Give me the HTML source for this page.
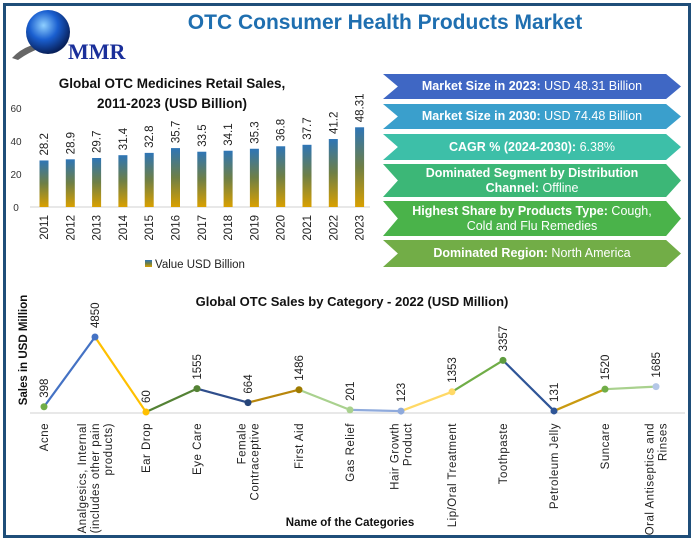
<!DOCTYPE html>
<html><head><meta charset="utf-8"><style>
body{margin:0;background:#fff;}
#wrap{position:relative;width:694px;height:542px;overflow:hidden;background:#fff;font-family:"Liberation Sans",sans-serif;}
#frame{position:absolute;left:3px;top:3px;width:682px;height:529px;border:3px solid #1f4e79;}
.title{position:absolute;left:150px;top:11px;width:470px;text-align:center;color:#1f6fb0;font-weight:bold;font-size:21px;}
.ban{position:absolute;left:383px;width:298px;box-sizing:border-box;padding:0 22px;color:#fff;font-size:12.5px;text-align:center;display:flex;align-items:center;justify-content:center;line-height:15px;clip-path:polygon(0 0,95% 0,100% 50%,95% 100%,0 100%,5% 50%);}
.ban b{font-weight:bold;}
</style></head><body>
<div id="wrap">
<div id="frame"></div>
<svg style="position:absolute;left:10px;top:8px" width="130" height="55">
<defs><radialGradient id="gl" cx="40%" cy="35%" r="65%"><stop offset="0" stop-color="#8fd0ff"/><stop offset="0.5" stop-color="#1a5fd0"/><stop offset="1" stop-color="#08205a"/></radialGradient></defs>
<path d="M2 50 Q20 30 60 34 Q30 36 8 52Z" fill="#666"/>
<circle cx="38" cy="24" r="22" fill="url(#gl)"/>
<text x="58" y="51" font-family="Liberation Serif,serif" font-weight="bold" font-size="22" fill="#1a2f9a">MMR</text>
</svg>
<div class="title">OTC Consumer Health Products Market</div>

<div class="ban" style="top:74px;height:25px;background:#3f67c4"><span><b>Market Size in 2023:</b> USD 48.31 Billion</span></div>
<div class="ban" style="top:104px;height:25px;background:#3a9fcc"><span><b>Market Size in 2030:</b> USD 74.48 Billion</span></div>
<div class="ban" style="top:134px;height:26px;background:#3dbfa8"><span><b>CAGR % (2024-2030):</b> 6.38%</span></div>
<div class="ban" style="top:164px;height:33px;background:#3cb777"><span><b>Dominated Segment by Distribution Channel:</b> Offline</span></div>
<div class="ban" style="top:201px;height:35px;background:#4ab34a"><span><b>Highest Share by Products Type:</b> Cough, Cold and Flu Remedies</span></div>
<div class="ban" style="top:240px;height:27px;background:#72ad47"><span><b>Dominated Region:</b> North America</span></div>

<svg id="bar" style="position:absolute;left:0;top:0" width="380" height="280"></svg>
<svg id="line" style="position:absolute;left:0;top:280px" width="694" height="262"></svg>
</div>
<script>
const years=["2011","2012","2013","2014","2015","2016","2017","2018","2019","2020","2021","2022","2023"];
const sales=[28.2,28.9,29.7,31.4,32.8,35.7,33.5,34.1,35.3,36.8,37.7,41.2,48.31];
const salesLabels=["28.2","28.9","29.7","31.4","32.8","35.7","33.5","34.1","35.3","36.8","37.7","41.2","48.31"];
const yTicks=[0,20,40,60];

const categories=[["Acne"],["Analgesics, Internal","(includes other pain","products)"],["Ear Drop"],["Eye Care"],["Female","Contraceptive"],["First Aid"],["Gas Relief"],["Hair Growth","Product"],["Lip/Oral Treatment"],["Toothpaste"],["Petroleum Jelly"],["Suncare"],["Oral Antiseptics and","Rinses"]];
const catValues=[398,4850,60,1555,664,1486,201,123,1353,3357,131,1520,1685];
const pointColors=["#70ad47","#4472c4","#ffc000","#548235","#264478","#9e7b00","#a9d18e","#8faadc","#ffd966","#5e9c3f","#2f5597","#70ad47","#b4c7e7"];
const segColors=["#4472c4","#ffc000","#548235","#2f4e8c","#b8860b","#a9d18e","#8faadc","#ffd966","#70ad47","#2f5597","#c99a10","#a9d18e"];

const NS="http://www.w3.org/2000/svg";
function mk(p,t,a,txt){const e=document.createElementNS(NS,t);for(const k in a)e.setAttribute(k,a[k]);if(txt!==undefined)e.textContent=txt;p.appendChild(e);return e;}

// bar chart
const bs=document.getElementById('bar');
const defs=mk(bs,'defs',{});
const g=mk(defs,'linearGradient',{id:'bg',x1:0,y1:0,x2:0,y2:1});
mk(g,'stop',{offset:0,'stop-color':'#2e75b6'});mk(g,'stop',{offset:0.5,'stop-color':'#6f7f45'});mk(g,'stop',{offset:1,'stop-color':'#d9a000'});
const bx=i=>44+i*26.3, by=v=>207-v*1.65;
const t1=mk(bs,'text',{x:172,y:88,'text-anchor':'middle','font-size':13.5,'font-weight':'bold',fill:'#111'},'Global OTC Medicines Retail Sales,');

mk(bs,'text',{x:172,y:108,'text-anchor':'middle','font-size':13.5,'font-weight':'bold',fill:'#111'},'2011-2023 (USD Billion)');
const ax=mk(bs,'line',{x1:30,x2:370,y1:by(0),y2:by(0),stroke:'#d0d0d0'});

yTicks.forEach(t=>{const e=mk(bs,'text',{x:16,y:by(t)+4,'text-anchor':'middle','font-size':10,fill:'#333'},t);
});
years.forEach((yr,i)=>{
 const x=bx(i),v=sales[i];
 const r=mk(bs,'rect',{x:x-4.5,y:by(v),width:9,height:by(0)-by(v),fill:'url(#bg)'});
 
 const l=mk(bs,'text',{transform:`translate(${x+4},${by(v)-5}) rotate(-90)`,'font-size':11.5,fill:'#222'},salesLabels[i]);
 
 const yl=mk(bs,'text',{transform:`translate(${x+4},${by(0)+8}) rotate(-90)`,'text-anchor':'end','font-size':11.5,fill:'#222'},yr);
 
});
const lm=mk(bs,'rect',{x:145,y:260,width:7,height:7,fill:'url(#bg)'});

const lt=mk(bs,'text',{x:155,y:268,'font-size':11.5,fill:'#222'},'Value USD Billion');


// line chart
const ls=document.getElementById('line');
const lx=i=>44+i*51, ly=v=>133-v*0.01567;
const lt2=mk(ls,'text',{x:352,y:26,'text-anchor':'middle','font-size':13,'font-weight':'bold',fill:'#111'},'Global OTC Sales by Category - 2022 (USD Million)');

const yt=mk(ls,'text',{transform:'translate(27,70) rotate(-90)','text-anchor':'middle','font-size':11.5,'font-weight':'bold',fill:'#111'},'Sales in USD Million');

const xa=mk(ls,'line',{x1:30,x2:685,y1:ly(0),y2:ly(0),stroke:'#d0d0d0'});

for(let i=0;i<catValues.length-1;i++){
 const s=mk(ls,'line',{x1:lx(i),y1:ly(catValues[i]),x2:lx(i+1),y2:ly(catValues[i+1]),stroke:segColors[i],'stroke-width':2.2});
 
}
catValues.forEach((v,i)=>{
 const x=lx(i),y=ly(v);
 const c=mk(ls,'circle',{cx:x,cy:y,r:3.5,fill:pointColors[i]});
 
 const l=mk(ls,'text',{transform:`translate(${x+4},${y-9}) rotate(-90)`,'font-size':11.5,fill:'#222'},v);
 
 const lines=categories[i], n=lines.length;
 lines.forEach((t,k)=>{
  const off=(k-(n-1)/2)*13+4;
  const e=mk(ls,'text',{transform:`translate(${x+off},${ly(0)+10}) rotate(-90)`,'text-anchor':'end','font-size':11.5,fill:'#222','letter-spacing':'0.5'},t);
  
 });
});
const xt=mk(ls,'text',{x:350,y:246,'text-anchor':'middle','font-size':11.5,'font-weight':'bold',fill:'#111'},'Name of the Categories');

</script>
</body></html>
